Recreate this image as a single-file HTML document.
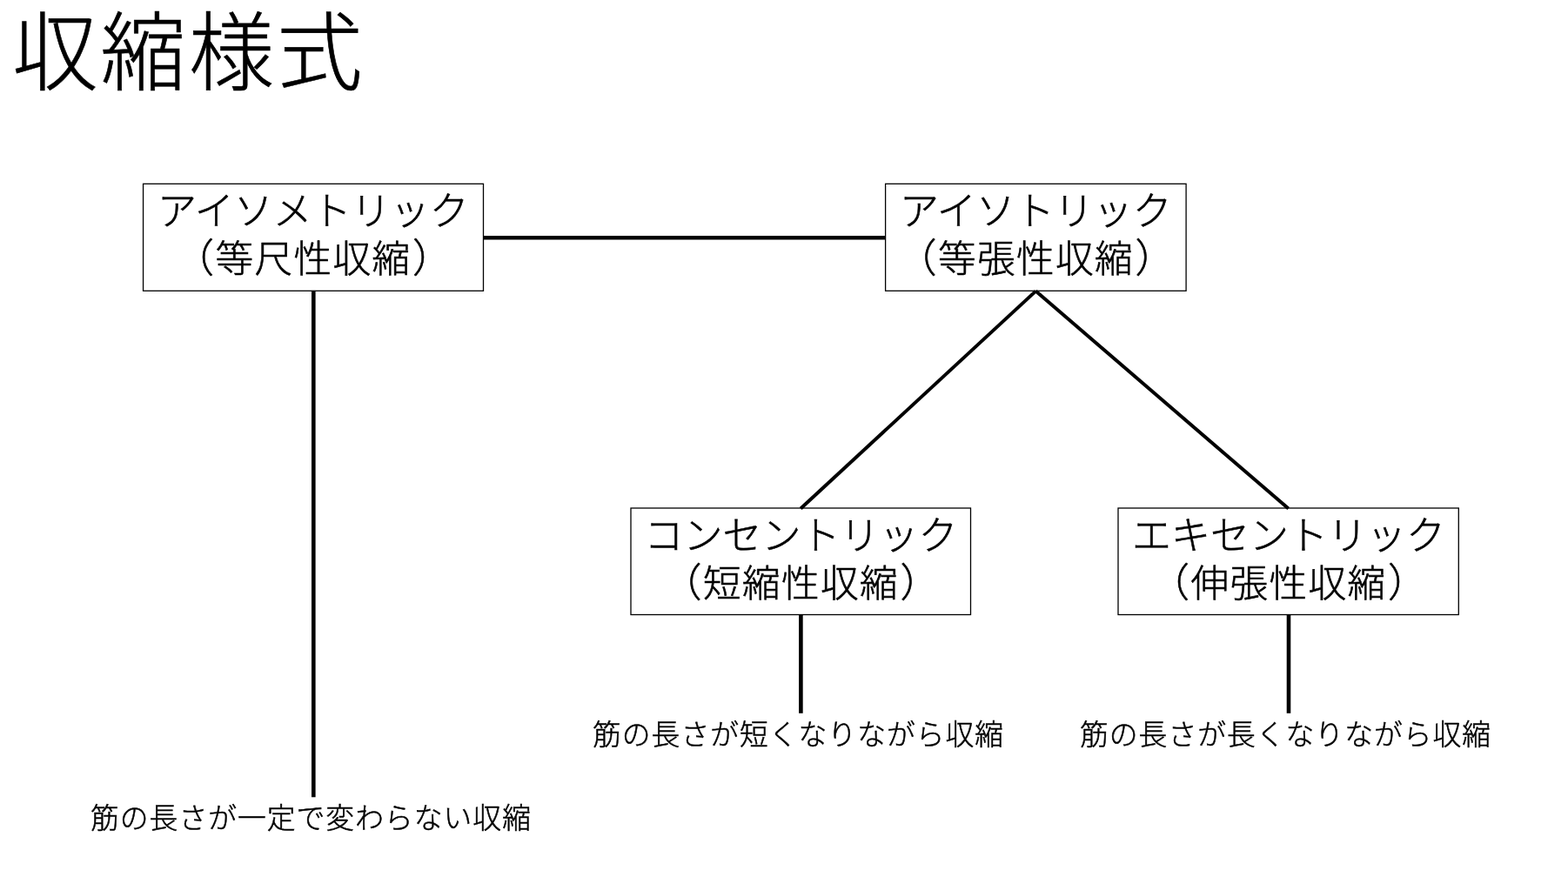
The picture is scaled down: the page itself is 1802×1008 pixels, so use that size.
<!DOCTYPE html>
<html lang="ja">
<head>
<meta charset="utf-8">
<title>収縮様式</title>
<style>
html,body{margin:0;padding:0;background:#fff;}
body{width:1802px;height:1008px;position:relative;overflow:hidden;
  font-family:"Liberation Sans","Noto Sans CJK JP",sans-serif;font-weight:300;color:#000;}
.t{position:absolute;white-space:nowrap;will-change:transform;margin:0;padding:0;}
#title{left:14px;top:1.5px;font-size:98.4px;letter-spacing:3px;line-height:120px;-webkit-text-stroke:0.6px #000;}
.b{font-size:45px;line-height:54px;text-align:center;-webkit-text-stroke:0.6px #000;}
.k{font-size:43.65px;letter-spacing:1.35px;}
.p{font-feature-settings:"halt" 1;font-size:45.5px;}
.pl{margin-right:1.5px;}
.pr{margin-left:1.5px;}
.label{font-size:32.8px;letter-spacing:1px;margin-left:0.5px;line-height:40px;-webkit-text-stroke:0.5px #000;}
svg{position:absolute;left:0;top:0;}
</style>
</head>
<body>
<svg width="1802" height="1008" viewBox="0 0 1802 1008">
  <g stroke="#000" stroke-width="4.6" fill="none">
    <line x1="555.5" y1="273.3" x2="1017.6" y2="273.3"/>
    <line x1="360.3" y1="334.3" x2="360.3" y2="916.3"/>
    <line x1="1190.3" y1="334.6" x2="920.2" y2="584.5" stroke-width="4"/>
    <line x1="1190.3" y1="334.6" x2="1480.7" y2="584.6" stroke-width="4"/>
    <line x1="920.4" y1="706.5" x2="920.4" y2="819.8"/>
    <line x1="1481" y1="706.5" x2="1481" y2="819.8"/>
  </g>
  <g stroke="#000" stroke-width="1.3" fill="none">
    <rect x="164.55" y="211.3" width="390.95" height="123"/>
    <rect x="1017.6" y="211.3" width="345.5" height="123"/>
    <rect x="725" y="584" width="390.5" height="122.5"/>
    <rect x="1285" y="584" width="391.3" height="122.5"/>
  </g>
</svg>
<h1 id="title" class="t" style="font-weight:300;">収縮様式</h1>
<div class="t b" style="left:164px;width:392px;top:217px;">アイソメトリック</div>
<div class="t b" style="left:164px;width:392px;top:271px;"><span class="p pl">（</span><span class="k">等尺性収縮</span><span class="p pr">）</span></div>
<div class="t b" style="left:1017px;width:347px;top:217px;">アイソトリック</div>
<div class="t b" style="left:1017px;width:347px;top:271px;"><span class="p pl">（</span><span class="k">等張性収縮</span><span class="p pr">）</span></div>
<div class="t b" style="left:725px;width:391px;top:589.7px;">コンセントリック</div>
<div class="t b" style="left:725px;width:391px;top:643.7px;"><span class="p pl">（</span><span class="k">短縮性収縮</span><span class="p pr">）</span></div>
<div class="t b" style="left:1285px;width:392px;top:589.7px;">エキセントリック</div>
<div class="t b" style="left:1285px;width:392px;top:643.7px;"><span class="p pl">（</span><span class="k">伸張性収縮</span><span class="p pr">）</span></div>
<div class="t label" style="left:103.4px;top:921.3px;">筋の長さが一定で変わらない収縮</div>
<div class="t label" style="left:680.6px;top:825.3px;">筋の長さが短くなりながら収縮</div>
<div class="t label" style="left:1240.9px;top:825.3px;">筋の長さが長くなりながら収縮</div>
</body>
</html>
